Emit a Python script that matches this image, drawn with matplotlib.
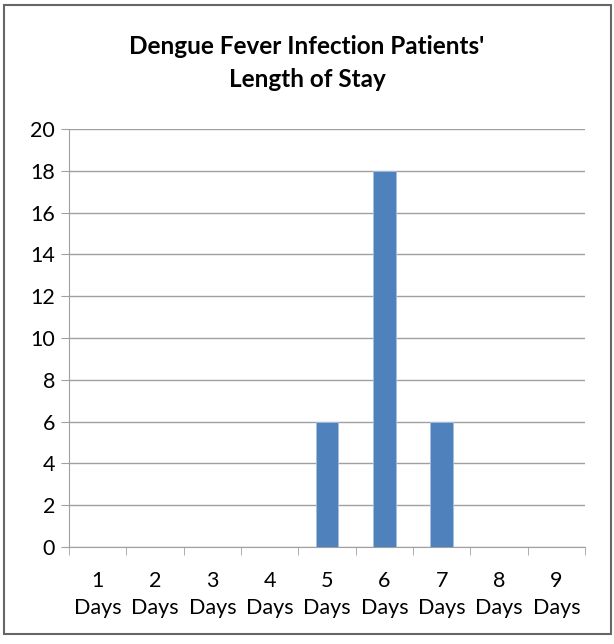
import matplotlib.pyplot as plt
from matplotlib.patches import Rectangle

# data
days = ["1\nDays", "2\nDays", "3\nDays", "4\nDays", "5\nDays",
        "6\nDays", "7\nDays", "8\nDays", "9\nDays"]
patients = [0, 0, 0, 0, 6, 18, 6, 0, 0]
yticks = [0, 2, 4, 6, 8, 10, 12, 14, 16, 18, 20]

plt.rcParams['font.family'] = ['Lato', 'DejaVu Sans']

fig = plt.figure(figsize=(6.14, 6.44), dpi=100)
ax = fig.add_axes([69 / 614, 1 - 547 / 644, (585 - 69) / 614, (547 - 129) / 644])

x = list(range(len(days)))
ax.bar(x, patients, width=0.4, color="#4F81BD", edgecolor="#A7BFDE", linewidth=0.6, zorder=3)

ax.set_xlim(-0.5, len(days) - 0.5)
ax.set_ylim(0, 20)
ax.set_yticks(yticks)
ax.set_yticklabels([str(v) for v in yticks], fontsize=15.5)
ax.yaxis.grid(True, color="#A0A0A0", linewidth=1.0, zorder=0)

# category labels centred, ticks between categories
ax.set_xticks(x)
ax.set_xticklabels(days, fontsize=15.5, linespacing=1.45)
ax.tick_params(axis="x", length=0, pad=17)
ax.set_xticks([i - 0.5 for i in range(len(days) + 1)], minor=True)
ax.tick_params(axis="x", which="minor", length=6, color="#A0A0A0", direction="out")
ax.tick_params(axis="y", length=6, color="#A0A0A0", direction="out", pad=4)

for side in ["top", "right"]:
    ax.spines[side].set_visible(False)
for side in ["left", "bottom"]:
    ax.spines[side].set_color("#A0A0A0")

fig.text(0.5, 1 - 63 / 644, "Dengue Fever Infection Patients'\nLength of Stay",
         ha="center", va="center", fontsize=17.5, fontweight="bold", linespacing=1.55)

# outer chart border
fig.patches.append(Rectangle((4 / 614, 1 - 634 / 644), 607 / 614, 629 / 644,
                             transform=fig.transFigure, fill=False,
                             edgecolor="#666666", linewidth=1.5))

fig.savefig("out.png", dpi=100)
